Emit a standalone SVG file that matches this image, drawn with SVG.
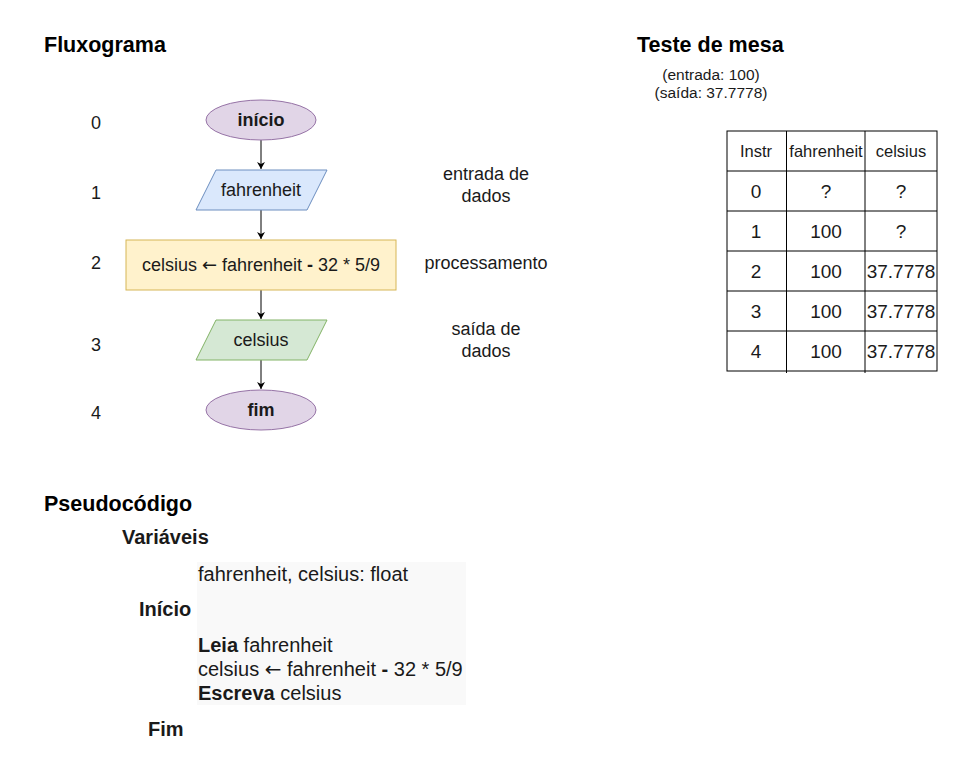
<svg xmlns="http://www.w3.org/2000/svg" width="967" height="775" viewBox="0 0 967 775">
<style>
text{font-family:"Liberation Sans",Arial,sans-serif;fill:#1a1a1a}
.t{font-size:21.5px;font-weight:bold;fill:#000}
.n{font-size:18px;text-anchor:middle}
.d{font-size:19px;text-anchor:middle}
.h{font-size:16.5px;text-anchor:middle}
.b{font-weight:bold}
.s{font-size:15.5px;text-anchor:middle}
.c{stroke:#000;stroke-width:1;fill:none}
.g{stroke:#000;stroke-width:1}
.p{font-size:20px;fill:#1a1a1a}
.ar{font-family:"DejaVu Sans",sans-serif}
</style>
<defs>
<marker id="a" markerWidth="10" markerHeight="10" refX="8" refY="5" orient="auto" markerUnits="userSpaceOnUse">
<path d="M1,1 L8,5 L1,9 L3,5 Z" fill="#000"/>
</marker>
</defs>
<rect width="967" height="775" fill="#fff"/>
<text class="t" x="44" y="52">Fluxograma</text>
<text class="t" x="637" y="52">Teste de mesa</text>
<text class="t" x="44" y="511">Pseudocódigo</text>

<g id="linenums">
<text class="n" x="96" y="129">0</text>
<text class="n" x="96" y="199">1</text>
<text class="n" x="96" y="269">2</text>
<text class="n" x="96" y="351">3</text>
<text class="n" x="96" y="419">4</text>
</g>
<g id="sidelabels">
<text class="n" x="486" y="180">entrada de</text>
<text class="n" x="486" y="202">dados</text>
<text class="n" x="486" y="269">processamento</text>
<text class="n" x="486" y="335">saída de</text>
<text class="n" x="486" y="357">dados</text>
</g>

<g id="connectors">
<line class="c" x1="261" y1="140" x2="261" y2="169" marker-end="url(#a)"/>
<line class="c" x1="261" y1="210" x2="261" y2="239" marker-end="url(#a)"/>
<line class="c" x1="261" y1="290" x2="261" y2="319" marker-end="url(#a)"/>
<line class="c" x1="261" y1="360" x2="261" y2="389" marker-end="url(#a)"/>
</g>

<g id="inicio">
<ellipse cx="261" cy="120" rx="55" ry="20" fill="#e1d5e7" stroke="#9673a6"/>
<text class="n b" x="261" y="126">início</text>
</g>
<g id="entrada">
<polygon points="216,170 327,170 307,210 196,210" fill="#dae8fc" stroke="#6c8ebf"/>
<text class="n" x="261" y="196">fahrenheit</text>
</g>
<g id="processo">
<rect x="126" y="240" width="270" height="50" fill="#fff2cc" stroke="#d6b656"/>
<text class="n" x="261" y="271">celsius <tspan class="ar">←</tspan> fahrenheit <tspan class="b">-</tspan> 32 * 5/9</text>
</g>
<g id="saida">
<polygon points="216,320 327,320 307,360 196,360" fill="#d5e8d4" stroke="#82b366"/>
<text class="n" x="261" y="346">celsius</text>
</g>
<g id="fim">
<ellipse cx="261" cy="410" rx="55" ry="20" fill="#e1d5e7" stroke="#9673a6"/>
<text class="n b" x="261" y="416">fim</text>
</g>

<g id="teste">
<text class="s" x="711" y="80">(entrada: 100)</text>
<text class="s" x="711" y="98">(saída: 37.7778)</text>
<rect x="727" y="131" width="210" height="240" fill="#fff" class="g"/>
<line class="g" x1="727" y1="171" x2="937" y2="171"/>
<line class="g" x1="727" y1="211" x2="937" y2="211"/>
<line class="g" x1="727" y1="251" x2="937" y2="251"/>
<line class="g" x1="727" y1="291" x2="937" y2="291"/>
<line class="g" x1="727" y1="331" x2="937" y2="331"/>
<line class="g" x1="786.5" y1="131" x2="786.5" y2="373"/>
<line class="g" x1="865" y1="131" x2="865" y2="373"/>
<text class="h" x="756" y="157">Instr</text>
<text class="h" x="826" y="157">fahrenheit</text>
<text class="h" x="901" y="157">celsius</text>
<text class="d" x="756" y="198">0</text><text class="d" x="826" y="198">?</text><text class="d" x="901" y="198">?</text>
<text class="d" x="756" y="238">1</text><text class="d" x="826" y="238">100</text><text class="d" x="901" y="238">?</text>
<text class="d" x="756" y="278">2</text><text class="d" x="826" y="278">100</text><text class="d" x="901" y="278">37.7778</text>
<text class="d" x="756" y="318">3</text><text class="d" x="826" y="318">100</text><text class="d" x="901" y="318">37.7778</text>
<text class="d" x="756" y="358">4</text><text class="d" x="826" y="358">100</text><text class="d" x="901" y="358">37.7778</text>
</g>

<g id="pseudocodigo">
<rect x="197" y="562" width="269" height="143" fill="#f9f9f9"/>
<text class="p b" x="122" y="544">Variáveis</text>
<text class="p" x="198" y="581">fahrenheit, celsius: float</text>
<text class="p b" x="139" y="616">Início</text>
<text class="p" x="198" y="652"><tspan class="b">Leia</tspan> fahrenheit</text>
<text class="p" x="198" y="676">celsius <tspan class="ar">←</tspan> fahrenheit <tspan class="b">-</tspan> 32 * 5/9</text>
<text class="p" x="198" y="700"><tspan class="b">Escreva</tspan> celsius</text>
<text class="p b" x="148" y="736">Fim</text>
</g>
</svg>
